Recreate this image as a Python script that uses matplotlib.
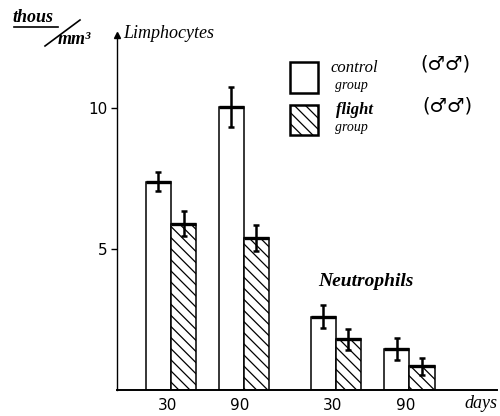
import matplotlib
matplotlib.use("Agg")
import matplotlib.pyplot as plt
from matplotlib.lines import Line2D
from matplotlib.patches import Rectangle

# ---- data ----
cell_types = ["Limphocytes", "Limphocytes", "Neutrophils", "Neutrophils"]
day_labels = ["30", "90", "30", "90"]
control_vals = [7.4, 10.05, 2.6, 1.45]
control_err = [0.35, 0.7, 0.4, 0.4]
flight_vals = [5.9, 5.4, 1.8, 0.85]
flight_err = [0.45, 0.45, 0.38, 0.3]
yticks = [5, 10]

plt.rcParams["hatch.linewidth"] = 0.9

# ---- layout ----
W, H = 500, 416
fig = plt.figure(figsize=(5, 4.16), dpi=100)
ax = fig.add_axes([117 / W, 1 - 390 / H, 380 / W, 355 / H])

group_pos = [0.0, 1.0, 2.26, 3.27]
bw = 0.345
HATCH = "\\\\\\"
script_font = dict(family="Liberation Serif", style="italic")

for i, g in enumerate(group_pos):
    xc = g - bw / 2
    xf = g + bw / 2
    ax.bar(xc, control_vals[i], width=bw, facecolor="white", edgecolor="black", linewidth=1.1)
    ax.bar(xf, flight_vals[i], width=bw, facecolor="white", edgecolor="black",
           linewidth=1.1, hatch=HATCH)
    for x, v, e in ((xc, control_vals[i], control_err[i]), (xf, flight_vals[i], flight_err[i])):
        ax.hlines(v, x - bw / 2, x + bw / 2, color="black", linewidth=2.4)
        ax.errorbar(x, v, yerr=e, fmt="none", ecolor="black", elinewidth=1.8, capsize=2.5,
                    capthick=1.8)

ax.set_xlim(-0.74, 4.47)
ax.set_ylim(0, 12.6)
for s in ("top", "right"):
    ax.spines[s].set_visible(False)
ax.spines["left"].set_linewidth(1.0)
ax.spines["bottom"].set_linewidth(1.4)
ax.set_xticks([])
ax.set_yticks(yticks)
ax.set_yticklabels([str(t) for t in yticks], fontsize=11)
ax.tick_params(axis="y", length=4, width=1, direction="out", pad=3)
ax.plot([0], [12.6], marker="^", color="black", markersize=4, transform=ax.get_yaxis_transform(),
        clip_on=False)

# x labels
for g, lab in zip(group_pos, day_labels):
    fig.text((117 + (g + 0.74) * 73) / W - 0.008, 1 - 406 / H, lab, fontsize=11,
             ha="center", va="center")
fig.text(481 / W, 1 - 404 / H, "days", fontsize=13, ha="center", va="center", **script_font)

# titles
fig.text(12 / W, 1 - 18 / H, "thous", fontsize=13, ha="left", va="center", fontweight="bold",
         **script_font)
fig.add_artist(Line2D([45 / W, 80 / W], [1 - 46 / H, 1 - 20 / H], color="black", lw=1.2,
                      transform=fig.transFigure))
fig.add_artist(Line2D([14 / W, 58 / W], [1 - 27 / H, 1 - 27 / H], color="black", lw=1.2,
                      transform=fig.transFigure))
fig.text(58 / W, 1 - 40 / H, "mm³", fontsize=13, ha="left", va="center", fontweight="bold",
         **script_font)
fig.text(123 / W, 1 - 34 / H, cell_types[0], fontsize=13, ha="left", va="center", **script_font)
fig.text(318 / W, 1 - 282 / H, cell_types[2], fontsize=14, ha="left", va="center",
         fontweight="bold", **script_font)

# legend
fig.add_artist(Rectangle((290 / W, 1 - 93 / H), 28 / W, 31 / H, facecolor="white",
                         edgecolor="black", lw=1.8, transform=fig.transFigure))
fig.add_artist(Rectangle((290 / W, 1 - 135 / H), 28 / W, 30 / H, facecolor="white",
                         edgecolor="black", lw=1.8, hatch=HATCH, transform=fig.transFigure))
fig.text(330 / W, 1 - 68 / H, "control", fontsize=12, ha="left", va="center", **script_font)
fig.text(335 / W, 1 - 85 / H, "group", fontsize=10, ha="left", va="center", **script_font)
fig.text(336 / W, 1 - 110 / H, "flight", fontsize=12, ha="left", va="center",
         fontweight="bold", **script_font)
fig.text(335 / W, 1 - 127 / H, "group", fontsize=10, ha="left", va="center", **script_font)
fig.text(420 / W, 1 - 64 / H, "(\u2642\u2642)", fontsize=14, ha="left", va="center",
         family="DejaVu Sans")
fig.text(422 / W, 1 - 106 / H, "(\u2642\u2642)", fontsize=14, ha="left", va="center",
         family="DejaVu Sans")

fig.savefig("out.png", dpi=100)
